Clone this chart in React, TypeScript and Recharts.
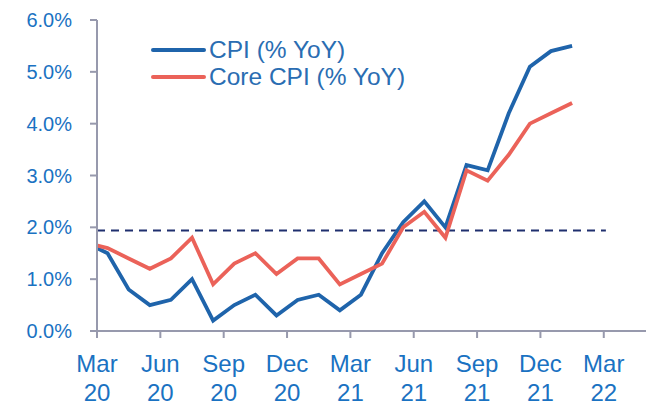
import { LineChart, Line, XAxis, YAxis, ReferenceLine, Legend } from 'recharts';

// monthly observations, Feb 20 .. Jan 22 (% YoY)
const months = [
    'Feb 20', 'Mar 20', 'Apr 20', 'May 20', 'Jun 20', 'Jul 20', 'Aug 20', 'Sep 20', 'Oct 20', 'Nov 20', 'Dec 20', 'Jan 21',
    'Feb 21', 'Mar 21', 'Apr 21', 'May 21', 'Jun 21', 'Jul 21', 'Aug 21', 'Sep 21', 'Oct 21', 'Nov 21', 'Dec 21', 'Jan 22',
];
const cpi = [1.7, 1.5, 0.8, 0.5, 0.6, 1.0, 0.2, 0.5, 0.7, 0.3, 0.6, 0.7, 0.4, 0.7, 1.5, 2.1, 2.5, 2.0, 3.2, 3.1, 4.2, 5.1, 5.4, 5.5];
const coreCpi = [1.7, 1.6, 1.4, 1.2, 1.4, 1.8, 0.9, 1.3, 1.5, 1.1, 1.4, 1.4, 0.9, 1.1, 1.3, 2.0, 2.3, 1.8, 3.1, 2.9, 3.4, 4.0, 4.2, 4.4];

// x ticks: month boundaries counted from Mar 20
const xTicks = [0, 3, 6, 9, 12, 15, 18, 21, 24];
const xTickMonths = ['Mar', 'Jun', 'Sep', 'Dec', 'Mar', 'Jun', 'Sep', 'Dec', 'Mar'];
const xTickYears = ['20', '20', '20', '20', '21', '21', '21', '21', '22'];
const yTicks = [0, 1, 2, 3, 4, 5, 6];

const targetLevel = 1.94;

// each month plotted mid-month (Feb 20 sits just left of the axis and is clipped)
const data = months.map((m, i) => ({ month: m, x: i - 0.5, cpi: cpi[i], core: coreCpi[i] }));

const colors = {
    cpi: '#1f64ab',
    core: '#eb6259',
    target: '#1f2f6e',
    axis: '#9799ad',
    text: '#1a72c2',
};
const font = '"Liberation Sans", Arial, sans-serif';

const XTick = ({ x, y, payload }: any) => {
    const i = xTicks.indexOf(payload.value);
    return (
        <text x={x} y={y} textAnchor="middle" fill={colors.text} fontSize={24} fontFamily={font}>
            <tspan x={x} dy={32}>{xTickMonths[i]}</tspan>
            <tspan x={x} dy={29}>{xTickYears[i]}</tspan>
        </text>
    );
};

const renderLegend = ({ payload }: any) => (
    <div>
        {payload.map((entry: any, index: number) => (
            <div key={index} style={{ display: 'flex', alignItems: 'center', height: 26.6 }}>
                <div style={{ width: 55, height: 3.8, borderRadius: 2, backgroundColor: entry.color }} />
                <span style={{ marginLeft: 3, fontSize: 24.5, fontFamily: font, color: '#2a6db2', whiteSpace: 'nowrap' }}>
                    {entry.value}
                </span>
            </div>
        ))}
    </div>
);

export default function App() {
    return (
        <div style={{ position: 'absolute', left: 0, top: 0 }}>
            <LineChart width={654} height={409} data={data} margin={{ top: 20, right: 8, bottom: 0, left: 0 }}>
                <XAxis
                    type="number"
                    dataKey="x"
                    domain={[0, 26]}
                    ticks={xTicks}
                    allowDataOverflow
                    height={78}
                    tickSize={7}
                    tickMargin={2}
                    axisLine={{ stroke: colors.axis, strokeWidth: 2 }}
                    tickLine={{ stroke: colors.axis, strokeWidth: 2 }}
                    tick={<XTick />}
                    interval={0}
                />
                <YAxis
                    type="number"
                    domain={[0, 6]}
                    ticks={yTicks}
                    width={97}
                    tickSize={7}
                    tickMargin={18}
                    axisLine={{ stroke: colors.axis, strokeWidth: 2 }}
                    tickLine={{ stroke: colors.axis, strokeWidth: 2 }}
                    tick={{ fill: colors.text, fontSize: 20, fontFamily: font }}
                    tickFormatter={(v: number) => v.toFixed(1) + '%'}
                    interval={0}
                />
                <ReferenceLine
                    segment={[{ x: 0, y: targetLevel }, { x: 24.1, y: targetLevel }]}
                    stroke={colors.target}
                    strokeWidth={2}
                    strokeDasharray="8 6"
                />
                <Legend
                    content={renderLegend}
                    layout="horizontal"
                    verticalAlign="middle"
                    align="center"
                    wrapperStyle={{ top: 37, left: 151, width: 'auto' }}
                />
                <Line
                    type="linear"
                    dataKey="cpi"
                    name="CPI (% YoY)"
                    stroke={colors.cpi}
                    strokeWidth={3.8}
                    dot={false}
                    isAnimationActive={false}
                />
                <Line
                    type="linear"
                    dataKey="core"
                    name="Core CPI (% YoY)"
                    stroke={colors.core}
                    strokeWidth={3.8}
                    dot={false}
                    isAnimationActive={false}
                />
            </LineChart>
        </div>
    );
}
